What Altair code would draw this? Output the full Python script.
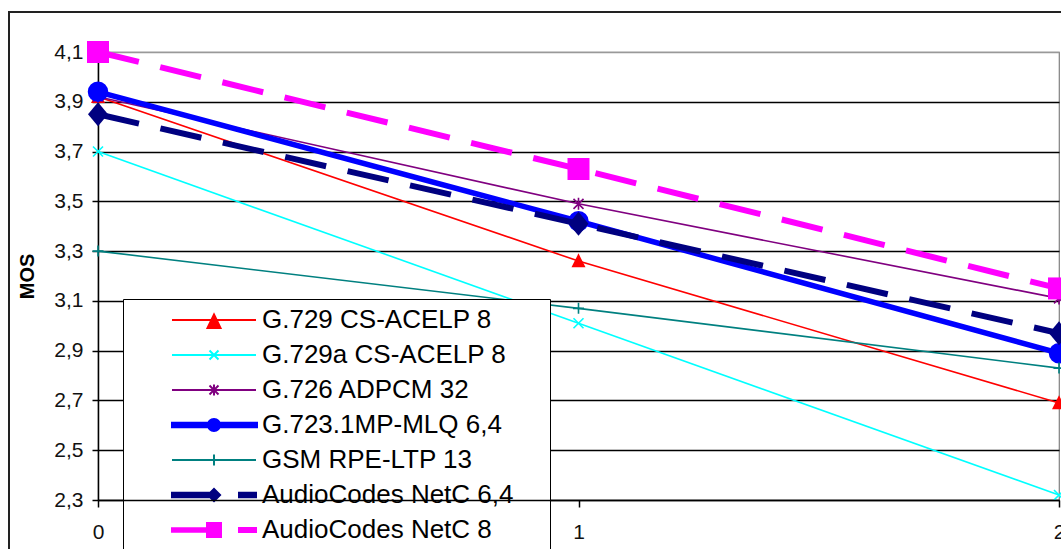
import altair as alt
import pandas as pd

# ---------------- data ----------------
x_vals = [0, 1, 2]
series_names = [
    "G.729 CS-ACELP 8",
    "G.729a CS-ACELP 8",
    "G.726 ADPCM 32",
    "G.723.1MP-MLQ 6,4",
    "GSM RPE-LTP 13",
    "AudioCodes NetC 6,4",
    "AudioCodes NetC 8",
]
g729 = [3.92, 3.26, 2.69]
g729a = [3.70, 3.01, 2.32]
g726 = [3.92, 3.49, 3.11]
g723 = [3.94, 3.42, 2.89]
gsm = [3.30, 3.07, 2.83]
netc64 = [3.85, 3.41, 2.97]
netc8 = [4.10, 3.63, 3.15]
y_ticks = [2.3, 2.5, 2.7, 2.9, 3.1, 3.3, 3.5, 3.7, 3.9, 4.1]
x_tick_count = 2

all_values = [g729, g729a, g726, g723, gsm, netc64, netc8]
rows = []
for name, vals in zip(series_names, all_values):
    for xv, yv in zip(x_vals, vals):
        rows.append({"series": name, "x": xv, "mos": yv})
df = pd.DataFrame(rows)

# ---------------- styles ----------------
colors = ["#FF0000", "#00FFFF", "#800080", "#0000FF", "#008080", "#000080", "#FF00FF"]
line_widths = [1.6, 1.6, 1.6, 5.5, 1.6, 6, 6]
dashes = [None, None, None, None, None, [42, 22], [42, 22]]
marker_shapes = [
    "M0,-1.1L1,0.9L-1,0.9Z",
    "M-1,-1L1,1M-1,1L1,-1",
    "M-1,-1L1,1M-1,1L1,-1M0,-1.2L0,1.2",
    "circle",
    "M-1,0L1,0M0,-1L0,1",
    "M0,-1.2L1,0L0,1.2L-1,0Z",
    "square",
]
marker_sizes = [196, 100, 100, 420, 121, 400, 484]
marker_filled = [True, False, False, True, False, True, True]

# legend symbols (unit = 5 px); thin rows are stroked, thick rows are filled outlines
legend_paths = [
    "M-8.4,0H8.4M0,-1.1L1.3,1.6L-1.3,1.6Z",
    "M-8.4,0H8.4M-0.9,-0.9L0.9,0.9M-0.9,0.9L0.9,-0.9",
    "M-8.4,0H8.4M-0.9,-0.9L0.9,0.9M-0.9,0.9L0.9,-0.9M0,-1.1L0,1.1",
    "M-8.6,-0.65H8.8V0.65H-8.6ZM-1.4,0A1.4,1.4 0 1,1 1.4,0A1.4,1.4 0 1,1 -1.4,0Z",
    "M-8.4,0H8.4M0,-1.1V1.1",
    "M-8.6,-0.65H0V0.65H-8.6ZM0,-1.5L1.5,0L0,1.5L-1.5,0ZM4.8,-0.65H8.6V0.65H4.8Z",
    "M-8.6,-0.55H0V0.55H-8.6ZM-1.6,-1.6H1.6V1.6H-1.6ZM4.8,-0.6H8.6V0.6H4.8Z",
]
thick_series = ["G.723.1MP-MLQ 6,4", "AudioCodes NetC 6,4", "AudioCodes NetC 8"]

font = "Liberation Sans"

x_enc = alt.X(
    "x:Q",
    scale=alt.Scale(domain=[0, 2], nice=False, zero=False),
    axis=alt.Axis(
        tickCount=x_tick_count, format="d", title=None, grid=False,
        tickSize=7, labelPadding=14, labelFontSize=21, labelFont=font,
        labelColor="#111", domainColor="#000", tickColor="#000",
        domainWidth=1.5, tickWidth=1.5, labelFlush=False, labelOverlap=False,
        zindex=1,
    ),
)
y_enc = alt.Y(
    "mos:Q",
    scale=alt.Scale(domain=[2.3, 4.1], nice=False, zero=False),
    axis=alt.Axis(
        values=y_ticks, title="MOS", titleFont=font, titleFontSize=20,
        titleFontWeight="bold", titleColor="#000", titleX=-61, titleY=224,
        labelExpr="replace(format(datum.value, '.1f'), '.', ',')",
        tickSize=6, labelPadding=9, labelFontSize=21, labelFont=font,
        labelColor="#111", domainColor="#000", tickColor="#000",
        domainWidth=1.5, tickWidth=1.5, grid=True, gridWidth=1.6,
        gridColor={"condition": {"test": "datum.value >= 4.09", "value": "#999999"}, "value": "#000000"},
        labelFlush=False, labelOverlap=False,
    ),
)

layers = []
frame = alt.Chart(pd.DataFrame({"a": [0]})).mark_rect(
    fill="transparent", stroke="#222", strokeWidth=2
).encode(x=alt.value(-89), x2=alt.value(1200), y=alt.value(-40), y2=alt.value(700))
layers.append(frame)

for i, name in enumerate(series_names):
    base = alt.Chart(df).transform_filter(alt.datum.series == name)
    line_kw = dict(color=colors[i], strokeWidth=line_widths[i], strokeCap="butt")
    if dashes[i] is not None:
        line_kw["strokeDash"] = dashes[i]
    line = base.mark_line(**line_kw).encode(x=x_enc, y=y_enc)
    pt_kw = dict(shape=marker_shapes[i], size=marker_sizes[i], filled=marker_filled[i],
                 color=colors[i], opacity=1)
    if not marker_filled[i]:
        pt_kw["strokeWidth"] = 1.6
    pts = base.mark_point(**pt_kw).encode(x=x_enc, y=y_enc)
    layers += [line, pts]

thick_expr = "indexof(" + str(thick_series) + ", datum.value) >= 0 ? 0 : 2"
leg = alt.Legend(
    title=" ", titleOrient="right", titlePadding=29, titleFontSize=24,
    orient="none", legendX=25, legendY=247, direction="vertical",
    padding=8, strokeColor="#000", fillColor="#FFFFFF",
    labelFont=font, labelFontSize=26, labelColor="#000", labelLimit=600,
    rowPadding=9, symbolSize=100, symbolOffset=70, labelOffset=35,
    symbolStrokeWidth={"expr": thick_expr},
)
legend_layer = alt.Chart(df).transform_filter("false").mark_point(
    filled=True, opacity=1, size=100
).encode(
    x=x_enc, y=y_enc,
    shape=alt.Shape("series:N", scale=alt.Scale(domain=series_names, range=legend_paths), legend=leg),
    fill=alt.Fill("series:N", scale=alt.Scale(domain=series_names, range=colors), legend=leg),
    stroke=alt.Stroke("series:N", scale=alt.Scale(domain=series_names, range=colors), legend=leg),
)
layers.append(legend_layer)

chart = alt.layer(*layers).properties(
    width=961, height=448,
    padding={"left": 98, "top": 52, "right": 2, "bottom": 49},
    autosize=alt.AutoSizeParams(type="none"),
    background="#FFFFFF",
).configure_view(stroke="#808080", strokeWidth=1.2)

chart.save("out.html", embed_options={"renderer": "svg", "actions": False})
